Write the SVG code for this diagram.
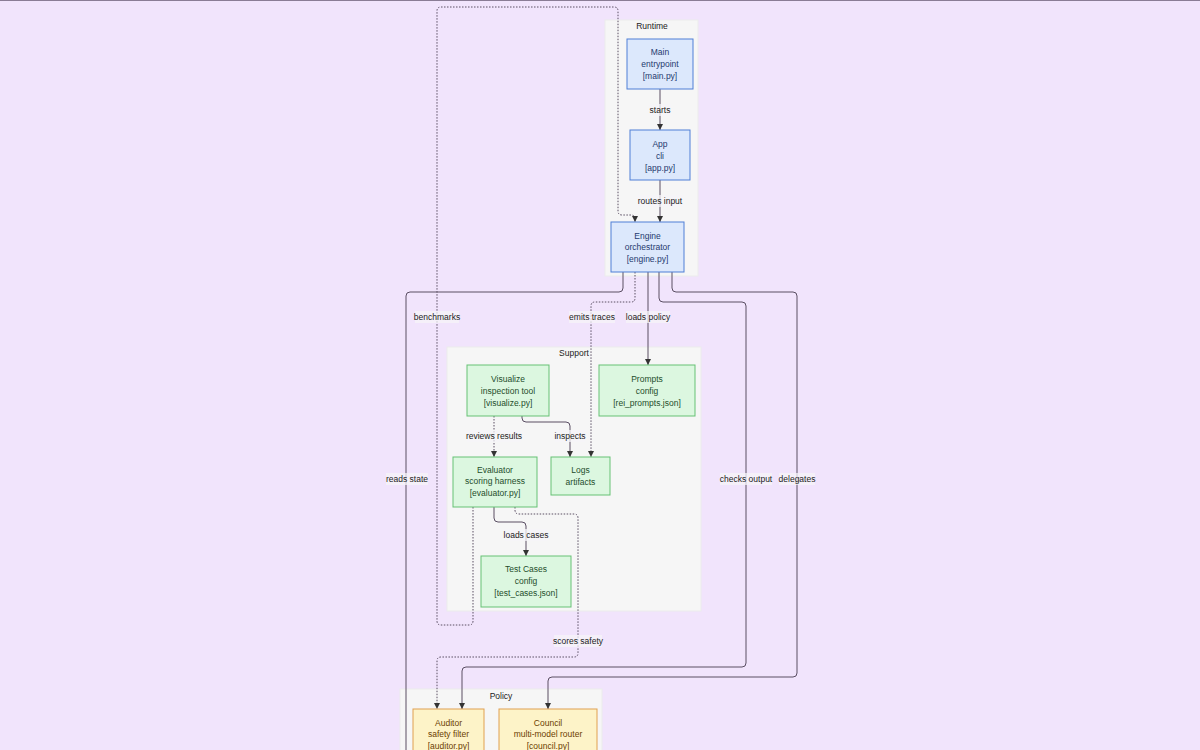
<svg xmlns="http://www.w3.org/2000/svg" width="1200" height="750" viewBox="0 0 1200 750">
<defs>
<marker id="ah" viewBox="0 0 10 10" refX="10" refY="5" markerWidth="6" markerHeight="6" markerUnits="userSpaceOnUse" orient="auto"><path d="M0,0 L10,5 L0,10 z" fill="#333"/></marker>
<style>
text{font-family:"Liberation Sans",Arial,sans-serif;font-size:8.5px;text-anchor:middle;dominant-baseline:central}
.cl{fill:#f6f6f6;stroke:#ececec;stroke-width:1}
.clt{fill:#222}
.rt rect{fill:#dce8fc;stroke:#4f7fd6;stroke-width:1}
.rt text{fill:#1f3a6e}
.sp rect{fill:#dcf7e0;stroke:#66c175;stroke-width:1}
.sp text{fill:#1e4d2b}
.po rect{fill:#fdf3c8;stroke:#e0a050;stroke-width:1}
.po text{fill:#6b3d00}
.e{fill:none;stroke:#5a4e63;stroke-width:1}
.d{stroke-dasharray:1.5 1.5}
.a{marker-end:url(#ah)}
.lb{fill:rgba(246,244,248,0.75)}
.lt{fill:#222}
</style>
</defs>
<rect x="0" y="0" width="1200" height="750" fill="#f1e4fc"/>
<rect x="0" y="0" width="1200" height="1" fill="#8a7c95"/>
<g id="clusters">
<rect class="cl" x="605" y="20" width="93" height="256"/>
<text class="clt" x="652" y="26">Runtime</text>
<rect class="cl" x="447" y="347" width="254" height="264"/>
<text class="clt" x="574" y="353">Support</text>
<rect class="cl" x="400" y="689" width="202" height="70"/>
<text class="clt" x="501" y="696">Policy</text>
</g>
<g id="connectors">
<path class="e a" d="M660,89 V130"/>
<path class="e a" d="M660,180 V222"/>
<path class="e d a" d="M473,507 V621 Q473,625 469,625 H441 Q437,625 437,621 V11 Q437,7 441,7 H614 Q618,7 618,11 V211 Q618,215 622,215 H631 Q635,215 635,219 V222"/>
<path class="e" d="M623,272 V288 Q623,292 619,292 H410 Q406,292 406,296 V752"/>
<path class="e d a" d="M635,272 V298 Q635,302 631,302 H595 Q591,302 591,306 V457"/>
<path class="e a" d="M648,272 V365"/>
<path class="e a" d="M659,272 V298 Q659,302 663,302 H742 Q746,302 746,306 V663 Q746,667 742,667 H466 Q462,667 462,671 V709"/>
<path class="e a" d="M672,272 V288 Q672,292 676,292 H793 Q797,292 797,296 V673 Q797,677 793,677 H552 Q548,677 548,681 V709"/>
<path class="e d a" d="M515,507 V510 Q515,514 519,514 H574 Q578,514 578,518 V653 Q578,657 574,657 H441 Q437,657 437,661 V709"/>
<path class="e d a" d="M494,416 V457"/>
<path class="e a" d="M522,416 V418 Q522,422 526,422 H566 Q570,422 570,426 V457"/>
<path class="e a" d="M494,507 V518 Q494,522 498,522 H522 Q526,522 526,526 V556"/>
<g id="edge-labels">
<rect class="lb" x="649" y="104" width="22" height="12"/><text class="lt" x="660" y="110">starts</text>
<rect class="lb" x="637" y="195" width="46" height="12"/><text class="lt" x="660" y="201">routes input</text>
<rect class="lb" x="415" y="311" width="44" height="12"/><text class="lt" x="437" y="317">benchmarks</text>
<rect class="lb" x="569" y="311" width="46" height="12"/><text class="lt" x="592" y="317">emits traces</text>
<rect class="lb" x="626" y="311" width="44" height="12"/><text class="lt" x="648" y="317">loads policy</text>
<rect class="lb" x="386" y="473" width="42" height="12"/><text class="lt" x="407" y="479">reads state</text>
<rect class="lb" x="720" y="473" width="52" height="12"/><text class="lt" x="746" y="479">checks output</text>
<rect class="lb" x="779" y="473" width="36" height="12"/><text class="lt" x="797" y="479">delegates</text>
<rect class="lb" x="467" y="430" width="54" height="12"/><text class="lt" x="494" y="436">reviews results</text>
<rect class="lb" x="555" y="430" width="30" height="12"/><text class="lt" x="570" y="436">inspects</text>
<rect class="lb" x="505" y="529" width="42" height="12"/><text class="lt" x="526" y="535">loads cases</text>
<rect class="lb" x="554" y="635" width="48" height="12"/><text class="lt" x="578" y="641">scores safety</text>
</g>
</g>
<g id="main" class="rt"><rect x="627" y="39" width="66" height="50"/><text x="660" y="52">Main</text><text x="660" y="64">entrypoint</text><text x="660" y="76">[main.py]</text></g>
<g id="app" class="rt"><rect x="630" y="130" width="60" height="50"/><text x="660" y="144">App</text><text x="660" y="156">cli</text><text x="660" y="168">[app.py]</text></g>
<g id="engine" class="rt"><rect x="611" y="222" width="73" height="50"/><text x="647.5" y="236">Engine</text><text x="647.5" y="247">orchestrator</text><text x="647.5" y="259">[engine.py]</text></g>
<g id="visualize" class="sp"><rect x="467" y="365" width="82" height="51"/><text x="508" y="379">Visualize</text><text x="508" y="391">inspection tool</text><text x="508" y="403">[visualize.py]</text></g>
<g id="prompts" class="sp"><rect x="599" y="365" width="96" height="51"/><text x="647" y="379">Prompts</text><text x="647" y="391">config</text><text x="647" y="403">[rei_prompts.json]</text></g>
<g id="evaluator" class="sp"><rect x="453" y="457" width="84" height="50"/><text x="495" y="470">Evaluator</text><text x="495" y="481">scoring harness</text><text x="495" y="493">[evaluator.py]</text></g>
<g id="logs" class="sp"><rect x="551" y="457" width="59" height="38"/><text x="580.5" y="470">Logs</text><text x="580.5" y="482">artifacts</text></g>
<g id="testcases" class="sp"><rect x="481" y="556" width="90" height="51"/><text x="526" y="569">Test Cases</text><text x="526" y="581">config</text><text x="526" y="593">[test_cases.json]</text></g>
<g id="auditor" class="po"><rect x="413" y="709" width="71" height="50"/><text x="448.5" y="723">Auditor</text><text x="448.5" y="734">safety filter</text><text x="448.5" y="746">[auditor.py]</text></g>
<g id="council" class="po"><rect x="499" y="709" width="98" height="50"/><text x="548" y="723">Council</text><text x="548" y="734">multi-model router</text><text x="548" y="746">[council.py]</text></g>
</svg>
